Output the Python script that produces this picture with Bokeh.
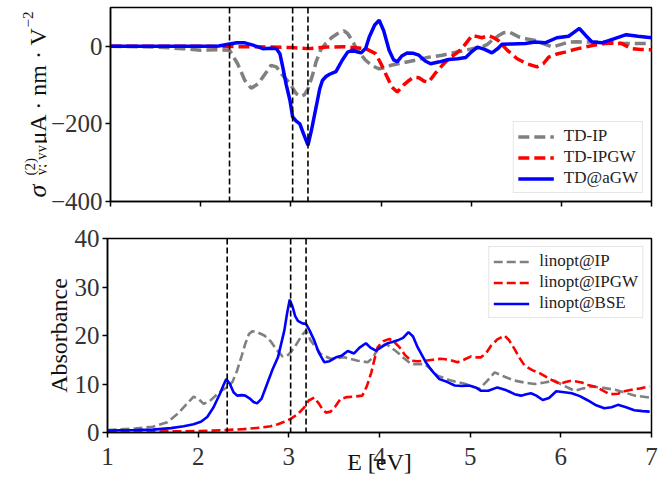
import math
from bokeh.plotting import figure
from bokeh.layouts import column, row
from bokeh.models import Span, FixedTicker, Legend, LegendItem, Range1d, CustomJSTickFormatter, Label
from bokeh.embed import file_html
from bokeh.resources import INLINE

FONT = "Liberation Serif"

# ---------------- data ----------------
x_ticks = [1, 2, 3, 4, 5, 6, 7]
top_y_ticks = [-400, -200, 0]
top_y_labels = {-400: "\u2212400", -200: "\u2212200", 0: "0"}
bot_y_ticks = [0, 10, 20, 30, 40]
exciton_E = [2.32, 3.02, 3.19]

td_ip_E = [1.0, 1.5, 1.8, 2.0, 2.2, 2.32, 2.41, 2.49, 2.56, 2.64, 2.73, 2.78, 2.84, 2.91, 2.99, 3.06,
           3.11, 3.15, 3.19, 3.24, 3.28, 3.33, 3.39, 3.45, 3.52, 3.59, 3.63, 3.68, 3.72, 3.78, 3.83,
           3.90, 3.98, 4.05, 4.11, 4.25, 4.38, 4.53, 4.68, 4.82, 4.94, 5.05, 5.12, 5.18, 5.23, 5.30,
           5.36, 5.42, 5.48, 5.53, 5.62, 5.71, 5.80, 5.90, 6.00, 6.08, 6.17, 6.26, 6.36, 6.45, 6.58,
           6.71, 6.85, 7.0]
td_ip_s = [0, -2, -6, -10, -9, -10, -45, -88, -108, -96, -66, -49, -53, -75, -96, -122,
           -129, -125, -110, -75, -40, -10, 8, 22, 33, 40, 33, 15, -2, -22, -36,
           -50, -58, -55, -49, -42, -36, -28, -23, -16, -10, -4, -2, 5, 15, 27,
           35, 37, 30, 24, 19, 15, 7, -2, 5, 11, 12, 11, 11, 11, 9,
           7, 7, 7]

td_ipgw_E = [1.0, 2.0, 2.5, 3.0, 3.2, 3.4, 3.6, 3.83, 3.94, 4.00, 4.05, 4.12, 4.18, 4.25, 4.31, 4.36,
             4.42, 4.48, 4.53, 4.60, 4.68, 4.76, 4.83, 4.90, 4.94, 5.01, 5.07, 5.12, 5.19, 5.25, 5.30,
             5.40, 5.51, 5.62, 5.73, 5.80, 5.86, 5.95, 6.04, 6.15, 6.26, 6.37, 6.48, 6.58, 6.67, 6.78,
             6.88, 7.0]
td_ipgw_s = [0, 0, -1, -3, -6, -2, -1, -6, -19, -45, -70, -105, -118, -100, -88, -80,
             -81, -90, -92, -70, -49, -30, -19, -5, 7, 28, 25, 22, 28, 22, 15,
             -10, -32, -45, -53, -45, -28, -20, -15, -8, -2, 3, 7, 8, 7, -6,
             -8, -9]

td_agw_E = [1.0, 1.5, 2.0, 2.2, 2.32, 2.40, 2.49, 2.58, 2.69, 2.78, 2.84, 2.88, 2.91, 2.95, 2.99, 3.02,
            3.06, 3.10, 3.14, 3.19, 3.23, 3.28, 3.32, 3.35, 3.39, 3.43, 3.50, 3.57, 3.63, 3.69, 3.74,
            3.78, 3.83, 3.87, 3.93, 3.98, 4.03, 4.09, 4.14, 4.18, 4.23, 4.29, 4.36, 4.42, 4.49, 4.55,
            4.65, 4.75, 4.85, 4.94, 5.00, 5.07, 5.15, 5.23, 5.30, 5.34, 5.45, 5.60, 5.71, 5.82, 5.95,
            6.08, 6.14, 6.20, 6.27, 6.34, 6.45, 6.59, 6.72, 6.85, 7.0]
td_agw_s = [0, 0, 0, 1, 6, 9, 9, 3, -6, -5, -6, -20, -53, -100, -139, -182,
            -193, -200, -225, -255, -215, -157, -110, -88, -78, -72, -65, -36, -15, -10, -15,
            -17, -5, 24, 55, 67, 40, -10, -35, -40, -25, -17, -18, -23, -38, -45,
            -40, -34, -32, -29, -15, -2, -8, -17, -5, 5, 6, 7, 11, 9, 22,
            26, 36, 46, 28, 11, 9, 20, 30, 26, 22]

lin_ip_E = [1.0, 1.3, 1.5, 1.66, 1.77, 1.87, 1.95, 2.01, 2.06, 2.13, 2.21, 2.27, 2.33, 2.38, 2.43, 2.48,
            2.52, 2.56, 2.60, 2.66, 2.73, 2.80, 2.86, 2.93, 2.98, 3.02, 3.07, 3.11, 3.15, 3.19, 3.24,
            3.30, 3.35, 3.46, 3.61, 3.76, 3.87, 3.93, 3.98, 4.07, 4.13, 4.20, 4.27, 4.35, 4.50, 4.57,
            4.64, 4.79, 4.95, 5.10, 5.18, 5.27, 5.38, 5.49, 5.60, 5.71, 5.82, 5.93, 6.04, 6.15, 6.25,
            6.34, 6.47, 6.60, 6.71, 6.82, 6.98]
lin_ip_A = [0.5, 0.8, 1.2, 2.1, 3.8, 5.8, 7.4, 6.8, 5.9, 6.5, 7.9, 8.8, 9.4, 10.5, 12.8, 15.8,
            18.3, 20.3, 20.9, 20.6, 20.0, 18.8, 17.2, 15.7, 15.8, 16.5, 17.8, 19.0, 20.2, 21.0, 19.0,
            17.5, 16.2, 15.2, 15.5, 14.8, 14.5, 15.5, 17.2, 18.3, 17.5, 16.5, 15.3, 14.1, 14.1, 13.0,
            11.7, 10.7, 10.0, 9.0, 10.5, 12.4, 11.5, 10.7, 10.3, 10.0, 10.3, 10.7, 9.6, 8.6, 9.1,
            9.5, 9.2, 8.8, 8.2, 7.6, 7.2]

lin_ipgw_E = [1.0, 1.5, 2.0, 2.31, 2.5, 2.69, 2.80, 2.88, 2.95, 3.02, 3.10, 3.17, 3.22, 3.28, 3.33, 3.37,
              3.41, 3.46, 3.51, 3.57, 3.64, 3.72, 3.81, 3.86, 3.91, 3.95, 3.98, 4.04, 4.11, 4.17, 4.22,
              4.28, 4.35, 4.42, 4.50, 4.59, 4.68, 4.77, 4.86, 4.93, 5.01, 5.07, 5.12, 5.18, 5.23, 5.30,
              5.38, 5.43, 5.49, 5.54, 5.60, 5.69, 5.78, 5.88, 5.99, 6.05, 6.12, 6.23, 6.30, 6.37, 6.46,
              6.54, 6.63, 6.70, 6.78, 6.88, 6.98]
lin_ipgw_A = [0.1, 0.2, 0.3, 0.5, 0.7, 1.0, 1.3, 1.7, 2.2, 2.8, 3.8, 5.2, 6.6, 7.2, 6.0, 4.8,
              4.1, 4.3, 5.3, 6.9, 7.3, 7.4, 7.6, 9.5, 12.4, 15.5, 17.6, 18.8, 19.3, 18.5, 17.6,
              16.0, 14.8, 14.7, 14.8, 15.0, 15.2, 15.0, 14.5, 15.0, 15.7, 15.5, 15.5, 16.5, 17.9, 19.2,
              20.0, 19.0, 17.2, 15.5, 13.8, 12.8, 12.1, 11.0, 10.0, 10.4, 10.7, 10.3, 9.8, 9.5, 8.7,
              7.9, 8.0, 8.5, 8.8, 9.1, 9.5]

lin_bse_E = [1.0, 1.3, 1.5, 1.7, 1.84, 1.95, 2.03, 2.10, 2.17, 2.24, 2.28, 2.31, 2.35, 2.39, 2.43, 2.48,
             2.52, 2.57, 2.61, 2.65, 2.70, 2.76, 2.82, 2.88, 2.95, 2.98, 3.01, 3.04, 3.07, 3.10, 3.15,
             3.19, 3.23, 3.28, 3.33, 3.39, 3.45, 3.52, 3.58, 3.65, 3.72, 3.78, 3.85, 3.90, 3.96, 4.02,
             4.09, 4.15, 4.20, 4.26, 4.32, 4.37, 4.42, 4.51, 4.58, 4.66, 4.75, 4.83, 4.91, 4.99, 5.07,
             5.12, 5.20, 5.30, 5.40, 5.49, 5.56, 5.62, 5.67, 5.73, 5.80, 5.87, 5.95, 6.04, 6.12, 6.21,
             6.30, 6.39, 6.48, 6.56, 6.63, 6.72, 6.81, 6.90, 6.98]
lin_bse_A = [0.4, 0.5, 0.6, 0.9, 1.3, 1.7, 2.2, 3.2, 5.2, 8.0, 9.8, 11.0, 10.0, 8.3, 7.6, 7.7,
             7.6, 7.0, 6.3, 6.0, 7.0, 10.0, 13.0, 15.5, 21.0, 24.5, 27.4, 26.0, 24.0, 23.0, 22.5,
             22.4, 21.0, 19.0, 16.5, 14.5, 14.7, 15.5, 15.8, 16.8, 16.3, 17.5, 18.4, 17.5, 16.9, 17.6,
             18.4, 18.7, 19.0, 19.5, 20.7, 19.8, 17.6, 14.5, 12.7, 11.0, 10.4, 9.7, 9.6, 9.7, 9.2,
             8.6, 8.6, 9.3, 8.7, 7.9, 7.6, 7.9, 8.1, 7.6, 6.7, 7.1, 8.5, 8.3, 8.1, 7.5,
             6.6, 5.6, 5.0, 5.2, 5.7, 5.2, 4.6, 4.4, 4.3]

# ---------------- layout (page pixels; the page has no margin) ----------------
W = 666
FRAME_L, FRAME_R = 107, 651
BR = W - FRAME_R
LAB_W = 47

T1, F1, B1 = 7, 194, 18
H1 = T1 + F1 + B1                  # 219
T2, F2, B2 = 238 - H1, 194, 50
H2 = T2 + F2 + B2                  # ends at 482

TICK_COLOR = "#333333"
TICK_FS = "25px"
blank = CustomJSTickFormatter(code="return ''")


def style(p):
    p.outline_line_color = "black"
    p.outline_line_width = 1.5
    p.xgrid.visible = False
    p.ygrid.visible = False
    for ax in p.axis:
        ax.axis_line_width = 1.5
        ax.axis_line_color = "black"
        ax.major_tick_out = 5
        ax.major_tick_in = 0
        ax.major_tick_line_width = 1.5
        ax.minor_tick_out = 0
        ax.minor_tick_in = 0
        ax.major_label_text_font = FONT
        ax.major_label_text_font_size = TICK_FS
        ax.major_label_text_color = TICK_COLOR
        ax.major_label_standoff = 3
        ax.axis_label_text_font = FONT
        ax.axis_label_text_font_style = "normal"
        ax.axis_label_text_font_size = "24px"
        ax.axis_label_text_color = "#111111"


def style_legend(lg):
    lg.label_text_font = FONT
    lg.label_text_font_size = "17px"
    lg.label_text_color = "#222222"
    lg.glyph_width = 36
    lg.glyph_height = 19
    lg.label_height = 19
    lg.label_standoff = 10
    lg.spacing = 1
    lg.padding = 4
    lg.margin = 8
    lg.border_line_color = "#cccccc"
    lg.border_line_width = 1
    lg.background_fill_color = "white"
    lg.background_fill_alpha = 0.85


# ---------------- composite y label of the top panel ----------------
# frame of this narrow figure spans page x 0..47 and page y 7..201
lab = figure(width=LAB_W, height=H1, title=None,
             x_range=Range1d(0, LAB_W), y_range=Range1d(T1, T1 + F1),
             output_backend="svg", toolbar_location=None, x_axis_type=None, y_axis_type=None,
             min_border_left=0, min_border_right=0, min_border_top=T1, min_border_bottom=B1)
lab.outline_line_color = None
lab.xgrid.visible = False
lab.ygrid.visible = False


def ly(page_y):
    return (2 * T1 + F1) - page_y


ROT = math.pi / 2
ylab_parts = [
    ("\u03c3", 37, 197, "26px", "italic"),
    ("(2)", 29.5, 175, "15px", "normal"),
    ("y; yy", 40, 175, "15px", "normal"),
    ("\u03bcA \u00b7 nm \u00b7 V", 37, 144, "24px", "normal"),
    ("\u22122", 27, 27, "15px", "normal"),
]
for txt, px, py, fs, st in ylab_parts:
    lab.add_layout(Label(x=px, y=ly(py), x_units="data", y_units="data", text=txt, angle=ROT,
                         text_font=FONT, text_font_size=fs, text_font_style=st,
                         text_color="#111111", text_align="left", text_baseline="alphabetic"))

# ---------------- top figure ----------------
p1 = figure(width=W - LAB_W, height=H1, x_range=Range1d(1, 7), y_range=Range1d(-400, 100),
            output_backend="svg", toolbar_location=None,
            min_border_left=FRAME_L - LAB_W, min_border_right=BR,
            min_border_top=T1, min_border_bottom=B1)
style(p1)
p1.xaxis.formatter = blank
p1.xaxis.major_label_text_font_size = "2px"
p1.xaxis.major_label_standoff = 0
p1.xaxis.ticker = FixedTicker(ticks=x_ticks)
p1.yaxis.ticker = FixedTicker(ticks=top_y_ticks)
p1.yaxis.major_label_overrides = top_y_labels

for e in exciton_E:
    p1.add_layout(Span(location=e, dimension="height", line_color="black",
                       line_dash="6 3", line_width=1.6))

r_ip = p1.line(td_ip_E, td_ip_s, line_color="#808080", line_width=3.5, line_dash="11 5")
r_ipgw = p1.line(td_ipgw_E, td_ipgw_s, line_color="#ff0000", line_width=3.5, line_dash="11 5")
r_agw = p1.line(td_agw_E, td_agw_s, line_color="#0000ff", line_width=3.5)

lg1 = Legend(items=[LegendItem(label="TD-IP", renderers=[r_ip]),
                    LegendItem(label="TD-IPGW", renderers=[r_ipgw]),
                    LegendItem(label="TD@aGW", renderers=[r_agw])],
             location="bottom_right")
style_legend(lg1)
p1.add_layout(lg1)

# ---------------- bottom figure ----------------
p2 = figure(width=W, height=H2, x_range=p1.x_range, y_range=Range1d(0, 40),
            output_backend="svg", toolbar_location=None,
            min_border_left=FRAME_L, min_border_right=BR, min_border_top=T2, min_border_bottom=B2)
style(p2)
p2.xaxis.ticker = FixedTicker(ticks=x_ticks)
p2.xaxis.major_label_standoff = 10
p2.xaxis.axis_label = "E [eV]"
p2.xaxis.axis_label_standoff = -19
p2.yaxis.ticker = FixedTicker(ticks=bot_y_ticks)
p2.yaxis.axis_label = "Absorbance"
p2.yaxis.axis_label_standoff = 0

for e in exciton_E:
    p2.add_layout(Span(location=e, dimension="height", line_color="black",
                       line_dash="6 3", line_width=1.6))

q_ip = p2.line(lin_ip_E, lin_ip_A, line_color="#808080", line_width=2.6, line_dash="9 4")
q_ipgw = p2.line(lin_ipgw_E, lin_ipgw_A, line_color="#ff0000", line_width=2.6, line_dash="9 4")
q_bse = p2.line(lin_bse_E, lin_bse_A, line_color="#0000ff", line_width=2.6)

lg2 = Legend(items=[LegendItem(label="linopt@IP", renderers=[q_ip]),
                    LegendItem(label="linopt@IPGW", renderers=[q_ipgw]),
                    LegendItem(label="linopt@BSE", renderers=[q_bse])],
             location="top_right")
style_legend(lg2)
p2.add_layout(lg2)

layout = column(row(lab, p1, spacing=0), p2, spacing=0)

open("out.html", "w").write(file_html(layout, INLINE))
